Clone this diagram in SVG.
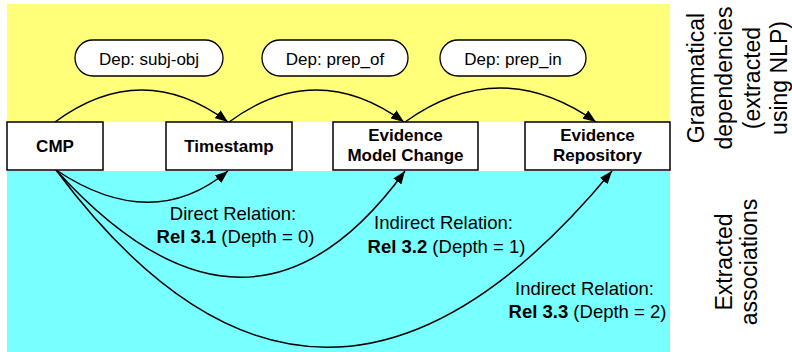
<svg xmlns="http://www.w3.org/2000/svg" width="792" height="352" viewBox="0 0 792 352">
  <style>
    text { font-family: "Liberation Sans", Arial, Helvetica, sans-serif; fill: #000; }
    .box { fill: #fff; stroke: #000; stroke-width: 1.5; }
    .pill { fill: #fff; stroke: #000; stroke-width: 1.3; }
    .node { font-size: 17px; font-weight: bold; text-anchor: middle; }
    .dep { font-size: 17px; text-anchor: middle; }
    .rel { font-size: 18.5px; text-anchor: middle; }
    .side { font-size: 23px; text-anchor: middle; }
    .edge { fill: none; stroke: #000; stroke-width: 1.5; marker-end: url(#arrow); }
    b, .b { font-weight: bold; }
  </style>
  <defs>
    <marker id="arrow" markerUnits="userSpaceOnUse" markerWidth="13" markerHeight="10" refX="13" refY="5" orient="auto">
      <path d="M0,0 L13,5 L0,10 z" fill="#000"/>
    </marker>
  </defs>

  <g id="bands">
    <rect x="7" y="4" width="663" height="118" fill="#ffff7a"/>
    <rect x="7" y="171" width="663" height="181" fill="#78ffff"/>
  </g>

  <g id="dep-labels">
    <g id="dep-subj-obj">
      <rect class="pill" x="75" y="40" width="148" height="36" rx="18"/>
      <text class="dep" x="149" y="65">Dep: subj-obj</text>
    </g>
    <g id="dep-prep-of">
      <rect class="pill" x="262" y="40" width="146" height="36" rx="18"/>
      <text class="dep" x="335" y="65">Dep: prep_of</text>
    </g>
    <g id="dep-prep-in">
      <rect class="pill" x="440" y="40" width="146" height="36" rx="18"/>
      <text class="dep" x="513" y="65">Dep: prep_in</text>
    </g>
  </g>

  <g id="connectors">
    <path class="edge" d="M55,122 Q142,58 228,122"/>
    <path class="edge" d="M229,122 Q316,58 404,122"/>
    <path class="edge" d="M405,122 Q500,54 596,122"/>
    <path class="edge" d="M56,170 Q152,234 228,171"/>
    <path class="edge" d="M56,170 Q250,384 405,171"/>
    <path class="edge" d="M56,170 Q320,524 612,171"/>
  </g>

  <g id="node-cmp">
    <rect class="box" x="7" y="122" width="96" height="48"/>
    <text class="node" x="55" y="152">CMP</text>
  </g>
  <g id="node-timestamp">
    <rect class="box" x="166" y="122" width="126" height="48"/>
    <text class="node" x="229" y="152">Timestamp</text>
  </g>
  <g id="node-emc">
    <rect class="box" x="333" y="122" width="145" height="48"/>
    <text class="node" x="405.5" y="141">Evidence</text>
    <text class="node" x="405.5" y="161">Model Change</text>
  </g>
  <g id="node-er">
    <rect class="box" x="525" y="122" width="145" height="48"/>
    <text class="node" x="597.5" y="141">Evidence</text>
    <text class="node" x="597.5" y="161">Repository</text>
  </g>

  <g id="relation-labels">
    <text class="rel" x="233" y="220">Direct Relation:</text>
    <text class="rel" x="235.5" y="243"><tspan class="b">Rel 3.1</tspan> (Depth = 0)</text>
    <text class="rel" x="443.5" y="229">Indirect Relation:</text>
    <text class="rel" x="446.5" y="253"><tspan class="b">Rel 3.2</tspan> (Depth = 1)</text>
    <text class="rel" x="584.5" y="295">Indirect Relation:</text>
    <text class="rel" x="587.5" y="318"><tspan class="b">Rel 3.3</tspan> (Depth = 2)</text>
  </g>

  <g id="side-labels">
    <text class="side" transform="translate(704,78) rotate(-90)">Grammatical</text>
    <text class="side" transform="translate(732,78) rotate(-90)">dependencies</text>
    <text class="side" transform="translate(760,78) rotate(-90)">(extracted</text>
    <text class="side" transform="translate(787,78) rotate(-90)">using NLP)</text>
    <text class="side" transform="translate(732,262) rotate(-90)">Extracted</text>
    <text class="side" transform="translate(757,262) rotate(-90)">associations</text>
  </g>
</svg>
